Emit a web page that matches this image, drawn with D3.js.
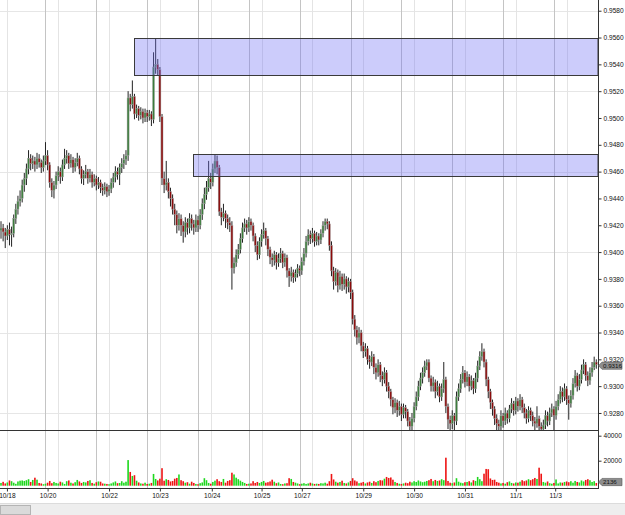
<!DOCTYPE html>
<html><head><meta charset="utf-8">
<script src="https://cdn.jsdelivr.net/npm/d3@7/dist/d3.min.js"></script>
<style>body{margin:0;background:#fff;}svg{display:block;font-family:"Liberation Sans",Arial,sans-serif;}</style>
</head><body><svg id="c" width="625" height="515"></svg>
<script>
// Hourly candles, prices in pips (1/10000)
const opens=[
9416,9418,9415,9412,9417,9413,9414,9425,9432,9438,
9440,9450,9455,9462,9470,9466,9468,9465,9470,9467,
9463,9468,9472,9465,9452,9446,9450,9457,9460,9456,
9465,9470,9472,9466,9469,9463,9467,9470,9462,9455,
9458,9460,9455,9458,9452,9455,9450,9452,9448,9446,
9449,9445,9447,9452,9456,9460,9458,9463,9466,9469,
9472,9515,9510,9516,9503,9507,9502,9505,9500,9504,
9501,9503,9499,9538,9540,9536,9501,9455,9450,9452,
9445,9440,9432,9428,9420,9425,9420,9415,9422,9418,
9425,9421,9418,9424,9420,9428,9436,9443,9448,9455,
9452,9462,9468,9463,9430,9426,9429,9425,9422,9420,
9388,9392,9398,9402,9410,9418,9421,9418,9423,9420,
9412,9405,9398,9408,9413,9416,9410,9402,9396,9394,
9398,9392,9395,9399,9392,9396,9386,9382,9385,9381,
9384,9388,9386,9393,9399,9408,9413,9410,9414,9408,
9412,9409,9414,9420,9423,9421,9405,9386,9378,9385,
9375,9382,9376,9380,9374,9378,9370,9350,9342,9336,
9340,9330,9326,9328,9320,9318,9322,9314,9310,9316,
9308,9305,9310,9300,9296,9290,9284,9288,9282,9285,
9279,9284,9281,9274,9270,9276,9285,9292,9300,9306,
9310,9315,9318,9306,9300,9303,9296,9300,9292,9298,
9305,9285,9275,9272,9278,9274,9292,9298,9305,9310,
9303,9307,9300,9304,9298,9306,9315,9322,9326,9318,
9305,9296,9288,9283,9276,9272,9270,9278,9274,9280,
9276,9283,9287,9282,9289,9285,9290,9284,9280,9276,
9282,9278,9274,9272,9276,9270,9268,9271,9278,9274,
9280,9283,9278,9285,9290,9296,9292,9298,9290,9287,
9293,9302,9308,9300,9305,9312,9316,9308,9304,9310,
9314,9318];
const highs=[
9423,9421,9418,9420,9422,9419,9428,9436,9442,9446,
9454,9459,9466,9476,9473,9472,9471,9474,9473,9469,
9472,9482,9476,9467,9455,9453,9460,9464,9463,9469,
9477,9476,9474,9473,9471,9470,9474,9472,9464,9461,
9465,9462,9462,9460,9458,9457,9456,9454,9451,9452,
9451,9450,9455,9459,9464,9463,9466,9470,9473,9476,
9520,9518,9528,9518,9510,9509,9508,9507,9507,9506,
9506,9505,9549,9559,9544,9538,9503,9460,9468,9455,
9448,9443,9436,9431,9429,9428,9423,9426,9425,9429,
9428,9424,9428,9427,9432,9440,9448,9453,9468,9459,
9466,9473,9472,9465,9433,9436,9431,9428,9426,9423,
9396,9402,9406,9414,9422,9425,9424,9426,9425,9422,
9414,9408,9411,9417,9422,9418,9412,9404,9399,9401,
9400,9399,9403,9401,9399,9398,9388,9389,9387,9387,
9391,9390,9396,9403,9412,9417,9416,9418,9416,9415,
9414,9417,9423,9425,9425,9423,9408,9389,9388,9387,
9386,9384,9384,9382,9381,9380,9372,9353,9345,9344,
9342,9333,9332,9330,9323,9326,9324,9317,9320,9318,
9311,9314,9312,9303,9298,9292,9291,9290,9289,9287,
9287,9286,9283,9277,9280,9288,9296,9304,9310,9314,
9319,9320,9320,9308,9307,9305,9304,9302,9302,9318,
9307,9287,9278,9282,9280,9296,9302,9309,9315,9312,
9311,9309,9308,9306,9310,9319,9326,9332,9328,9320,
9307,9298,9290,9285,9279,9275,9282,9280,9284,9282,
9286,9291,9289,9292,9291,9294,9292,9287,9283,9285,
9284,9281,9277,9285,9278,9273,9275,9282,9281,9284,
9287,9285,9289,9294,9300,9299,9302,9300,9293,9297,
9306,9312,9310,9309,9316,9320,9318,9311,9314,9318,
9322,9320];
const lows=[
9410,9408,9403,9409,9405,9404,9411,9421,9428,9434,
9437,9445,9450,9458,9461,9462,9460,9462,9463,9459,
9460,9465,9461,9448,9441,9440,9447,9453,9451,9453,
9462,9466,9462,9463,9459,9460,9464,9458,9451,9450,
9455,9451,9452,9448,9449,9446,9447,9444,9442,9443,
9441,9442,9444,9448,9452,9454,9450,9459,9462,9465,
9468,9505,9507,9499,9500,9498,9499,9496,9497,9497,
9498,9494,9496,9533,9532,9497,9450,9444,9446,9440,
9434,9428,9420,9414,9416,9412,9407,9411,9413,9414,
9416,9413,9415,9415,9417,9424,9432,9439,9445,9447,
9449,9459,9458,9427,9420,9423,9418,9417,9415,9372,
9384,9389,9395,9399,9407,9415,9413,9415,9416,9408,
9400,9394,9395,9404,9410,9405,9397,9391,9389,9390,
9387,9389,9392,9388,9389,9381,9374,9378,9377,9378,
9381,9382,9383,9390,9396,9405,9406,9407,9404,9405,
9405,9406,9411,9416,9417,9401,9382,9372,9375,9370,
9372,9371,9372,9369,9370,9365,9346,9337,9331,9332,
9326,9321,9322,9316,9313,9315,9309,9305,9307,9303,
9300,9302,9296,9291,9285,9279,9280,9277,9278,9274,
9276,9276,9270,9266,9267,9273,9282,9289,9297,9302,
9307,9312,9303,9296,9296,9291,9293,9288,9289,9295,
9280,9268,9266,9268,9267,9271,9289,9295,9302,9299,
9300,9296,9297,9294,9295,9303,9312,9319,9314,9300,
9291,9283,9278,9271,9266,9266,9267,9269,9271,9272,
9273,9280,9278,9279,9281,9282,9280,9276,9272,9273,
9274,9270,9267,9269,9266,9266,9266,9268,9270,9271,
9277,9266,9275,9282,9287,9288,9289,9286,9275,9284,
9290,9299,9296,9297,9302,9309,9304,9300,9301,9307,
9312,9313];
const closes=[
9418,9415,9412,9417,9413,9414,9425,9432,9438,9440,
9450,9455,9462,9470,9466,9468,9465,9470,9467,9463,
9468,9472,9465,9452,9446,9450,9457,9460,9456,9465,
9470,9472,9466,9469,9463,9467,9470,9462,9455,9458,
9460,9455,9458,9452,9455,9450,9452,9448,9446,9449,
9445,9447,9452,9456,9460,9458,9463,9466,9469,9472,
9515,9510,9516,9503,9507,9502,9505,9500,9504,9501,
9503,9499,9538,9540,9536,9501,9455,9450,9452,9445,
9440,9432,9428,9420,9425,9420,9415,9422,9418,9425,
9421,9418,9424,9420,9428,9436,9443,9448,9455,9452,
9462,9468,9463,9430,9426,9429,9425,9422,9420,9388,
9392,9398,9402,9410,9418,9421,9418,9423,9420,9412,
9405,9398,9408,9413,9416,9410,9402,9396,9394,9398,
9392,9395,9399,9392,9396,9386,9382,9385,9381,9384,
9388,9386,9393,9399,9408,9413,9410,9414,9408,9412,
9409,9414,9420,9423,9421,9405,9386,9378,9385,9375,
9382,9376,9380,9374,9378,9370,9350,9342,9336,9340,
9330,9326,9328,9320,9318,9322,9314,9310,9316,9308,
9305,9310,9300,9296,9290,9284,9288,9282,9285,9279,
9284,9281,9274,9270,9276,9285,9292,9300,9306,9310,
9315,9318,9306,9300,9303,9296,9300,9292,9298,9305,
9285,9275,9272,9278,9274,9292,9298,9305,9310,9303,
9307,9300,9304,9298,9306,9315,9322,9326,9318,9305,
9296,9288,9283,9276,9272,9270,9278,9274,9280,9276,
9283,9287,9282,9289,9285,9290,9284,9280,9276,9282,
9278,9274,9272,9276,9270,9268,9271,9278,9274,9280,
9283,9278,9285,9290,9296,9292,9298,9290,9287,9293,
9302,9308,9300,9305,9312,9316,9308,9304,9310,9314,
9318,9316];
const volumes=[
2200,3100,1800,2600,4200,3600,2400,1500,3400,4000,
4200,3800,4400,5200,3000,4600,6400,4800,2200,1800,
1200,1600,2400,3800,2000,3000,2200,1800,3200,2600,
1400,3600,4200,2400,1800,2800,4600,3400,2200,3000,
2600,3800,4400,2200,1600,2800,3400,3200,1800,1600,
1400,1200,1800,2600,3400,2000,2200,3600,2400,3200,
20500,11000,7800,8400,4000,2600,1800,1600,2400,1400,
1600,2200,9400,5400,4200,5600,14000,4000,5200,4600,
3400,3800,5600,6200,9000,4400,3600,2400,2800,1600,
3200,2200,1400,1200,2000,2600,6000,4400,2200,1600,
3000,4000,5200,3600,3000,5400,2400,3800,4400,10400,
9000,6400,5200,4000,3000,2200,1400,1600,1800,3600,
2200,3000,2200,3000,3800,2400,2800,3400,4800,3200,
2000,2600,1400,1200,1800,2000,6000,5400,3000,2400,
1800,1200,1600,2000,1400,1800,2400,1800,1400,1600,
1400,2000,1800,2400,1600,3600,9400,5000,3200,2400,
3000,4000,2200,1800,2600,3800,6000,4200,3400,2000,
2400,3000,1800,2600,3200,2200,3600,2800,3800,4400,
4200,5600,7000,6200,6600,4800,3000,2200,1600,1400,
1800,2400,2000,3200,2600,3600,3000,4200,3400,2800,
3200,3800,4400,5400,3600,4600,3800,4200,5200,4400,
22400,3800,2400,2000,2600,6000,3200,2400,2000,2800,
3000,3600,2600,4400,3800,7000,5200,3600,9600,13400,
13200,5800,4600,4800,3000,2400,1800,2200,1600,2800,
3400,2200,1800,2600,2400,3200,4400,3600,4200,5200,
4400,5200,6200,5400,14400,9600,3000,2400,3400,2000,
1600,2200,5000,1800,2600,2400,3000,3400,2800,3600,
2400,3800,3000,2600,4200,3400,4600,5200,4400,3000,
3600,2136];

const priceTicks=[9280,9300,9320,9340,9360,9380,9400,9420,9440,9460,9480,9500,9520,9540,9560,9580];
const gridPrices=[9280,9340,9400,9460,9520,9580];
const volumeTicks=[20000,40000];
const dateLabels=["10/18","10/20","10/22","10/23","10/24","10/25","10/27","10/29","10/30","10/31","11/1","11/3"];
const dateLabelIdx=[2.8,22,51,75,99.5,123,142,171,195,219,243,261.6];
const majorGridIdx=[21,45,69,93,117,141,165,189,213,237,261];
const minorGridIdx=[3,27,51,75,99,123,147,171,195,219,243,267];
const zoneStartIdx=[62.8,90.8];
const zoneLow=[9532,9457];
const zoneHigh=[9560,9473];
const lastPrice=9316;
const lastVolume=2136;

const svg=d3.select("#c");
const R=598, PB=430, VB=488;
const x=d3.scaleLinear().domain([0,281]).range([1,596.3]);
const y=d3.scaleLinear().domain([9267.3,9588]).range([PB,0]);
const yv=d3.scaleLinear().domain([0,40000]).range([485.7,435.7]);
const idx=d3.range(closes.length);

svg.append("defs").append("clipPath").attr("id","pc").append("rect").attr("x",0).attr("y",0).attr("width",R).attr("height",PB);

// grid
svg.append("g").selectAll("line").data(gridPrices).join("line")
 .attr("x1",0).attr("x2",R).attr("y1",d=>Math.round(y(d))+0.5).attr("y2",d=>Math.round(y(d))+0.5)
 .attr("stroke","#e6e6e6");
svg.append("g").selectAll("line").data(minorGridIdx).join("line")
 .attr("x1",d=>Math.round(x(d))+0.5).attr("x2",d=>Math.round(x(d))+0.5).attr("y1",0).attr("y2",VB)
 .attr("stroke","#e4e4e4");
svg.append("g").selectAll("line").data(majorGridIdx).join("line")
 .attr("x1",d=>Math.round(x(d))+0.5).attr("x2",d=>Math.round(x(d))+0.5).attr("y1",0).attr("y2",VB)
 .attr("stroke","#c4c4c4");

// candles
const cg=svg.append("g").attr("clip-path","url(#pc)");
cg.selectAll("line").data(idx).join("line")
 .attr("x1",i=>x(i)).attr("x2",i=>x(i)).attr("y1",i=>y(highs[i])).attr("y2",i=>y(lows[i]))
 .attr("stroke","#222").attr("stroke-width",1);
cg.selectAll("rect").data(idx).join("rect")
 .attr("x",i=>x(i)-1).attr("width",2)
 .attr("y",i=>y(Math.max(opens[i],closes[i])))
 .attr("height",i=>Math.max(1,Math.abs(y(opens[i])-y(closes[i]))))
 .attr("fill",i=>closes[i]>=opens[i]?"#3b7d3b":"#8c0a0a")
 .attr("stroke","#a8a8a8").attr("stroke-width",0.5);

// zones
svg.append("g").selectAll("rect").data(zoneStartIdx).join("rect")
 .attr("x",d=>Math.round(x(d))+0.5).attr("width",d=>R-Math.round(x(d))-0.5)
 .attr("y",(d,i)=>Math.round(y(zoneHigh[i]))+0.5)
 .attr("height",(d,i)=>Math.round(y(zoneLow[i]))-Math.round(y(zoneHigh[i])))
 .attr("fill","rgba(115,115,245,0.36)").attr("stroke","#3a3a3a").attr("stroke-width",1);

// volume
svg.append("g").selectAll("rect").data(idx).join("rect")
 .attr("x",i=>x(i)-0.8).attr("width",1.6)
 .attr("y",i=>yv(volumes[i])).attr("height",i=>yv(0)-yv(volumes[i]))
 .attr("fill",i=>closes[i]>=opens[i]?"#1ed81e":"#ee1414");

// panel lines
svg.append("line").attr("x1",0).attr("x2",R).attr("y1",PB+0.5).attr("y2",PB+0.5).attr("stroke","#333");
svg.append("line").attr("x1",0).attr("x2",R).attr("y1",VB+0.5).attr("y2",VB+0.5).attr("stroke","#333");
svg.append("line").attr("x1",R+0.5).attr("x2",R+0.5).attr("y1",0).attr("y2",VB+1).attr("stroke","#333");

// right axes
const ya=svg.append("g").attr("transform",`translate(${R+0.5},0)`)
 .call(d3.axisRight(y).tickValues(priceTicks).tickSize(3).tickPadding(2).tickFormat(d=>(d/10000).toFixed(4)));
const va=svg.append("g").attr("transform",`translate(${R+0.5},0)`)
 .call(d3.axisRight(yv).tickValues(volumeTicks).tickSize(3).tickPadding(2).tickFormat(d=>d));
const xa=svg.append("g").attr("transform",`translate(0,${VB+0.5})`)
 .call(d3.axisBottom(x).tickValues(dateLabelIdx).tickSize(3).tickPadding(2).tickFormat((d,i)=>dateLabels[i]));
[ya,va,xa].forEach(g=>{g.select(".domain").remove();
 g.selectAll("text").attr("font-size","6.6px").attr("fill","#111").attr("font-family","'Liberation Sans',Arial,sans-serif");
 g.selectAll("line").attr("stroke","#333");});

// last value tags
function tag(yy,label){
 const g=svg.append("g");
 g.append("path").attr("d",`M${R+0.5},${yy} L${R+4},${yy-3.6} L${R+24},${yy-3.6} L${R+24},${yy+3.6} L${R+4},${yy+3.6} Z`)
  .attr("fill","#8e8e8e").attr("stroke","#555").attr("stroke-width",0.6);
 g.append("text").attr("x",R+5).attr("y",yy+2.2).attr("font-size","6.2px").attr("fill","#111").text(label);
}
tag(y(lastPrice)+1,(lastPrice/10000).toFixed(4));
tag(yv(lastVolume)-1,String(lastVolume));

// scrollbar
svg.append("rect").attr("x",0).attr("y",503).attr("width",625).attr("height",12).attr("fill","#eeeeee");
svg.append("line").attr("x1",0).attr("x2",625).attr("y1",503.5).attr("y2",503.5).attr("stroke","#dcdcdc");
svg.append("rect").attr("x",0.5).attr("y",505.5).attr("width",30).attr("height",9).attr("fill","#dadada").attr("stroke","#b4b4b4");
</script></body></html>
